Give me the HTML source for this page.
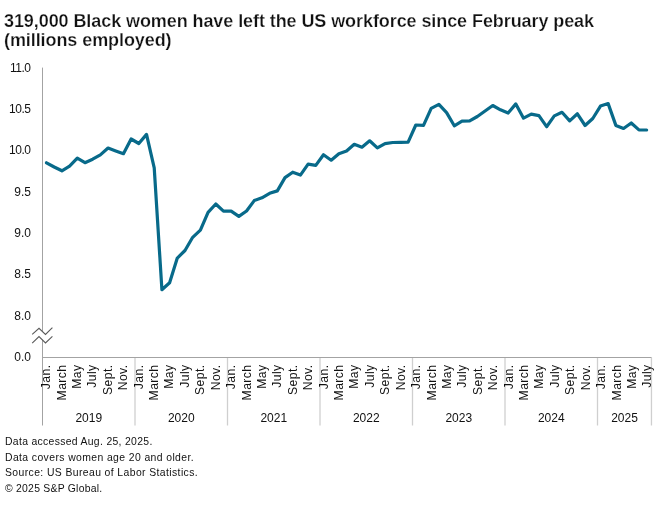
<!DOCTYPE html>
<html><head><meta charset="utf-8">
<style>
html,body{margin:0;padding:0;background:#fff;}
*{-webkit-font-smoothing:antialiased;}
.lay{will-change:transform;}
body{width:660px;height:505px;position:relative;overflow:hidden;font-family:"Liberation Sans",sans-serif;color:#000;}
.title{position:absolute;left:4px;top:11.7px;font-weight:bold;font-size:18px;line-height:19.2px;letter-spacing:-0.08px;white-space:nowrap;color:#111;-webkit-text-stroke:0.25px #fff;}
.foot{position:absolute;left:4.5px;top:433.8px;font-size:10.4px;line-height:15.6px;letter-spacing:0.4px;white-space:nowrap;color:#111;}
svg{position:absolute;left:0;top:0;}
svg text{font-family:"Liberation Sans",sans-serif;fill:#111;}
.yl{font-size:12px;}
.ml{font-size:12.2px;letter-spacing:0.4px;}
.yr{font-size:12px;}
.sep{stroke:#cfcfcf;stroke-width:1.3;}
.ax{stroke:#a3a3a3;stroke-width:1;fill:none;}
.brk{stroke:#5a5a5a;stroke-width:1.1;fill:none;}
</style></head><body>
<div class="title lay">319,000 Black women have left the US workforce since February peak<br>(millions employed)</div>
<svg class="lay" width="660" height="505" viewBox="0 0 660 505">
<line x1="651.46" y1="357.5" x2="651.46" y2="425.5" class="sep"/>
<line x1="135.00" y1="357.5" x2="135.00" y2="425.5" class="sep"/>
<line x1="227.50" y1="357.5" x2="227.50" y2="425.5" class="sep"/>
<line x1="320.00" y1="357.5" x2="320.00" y2="425.5" class="sep"/>
<line x1="412.50" y1="357.5" x2="412.50" y2="425.5" class="sep"/>
<line x1="505.00" y1="357.5" x2="505.00" y2="425.5" class="sep"/>
<line x1="597.50" y1="357.5" x2="597.50" y2="425.5" class="sep"/>
<line x1="42.5" y1="67.6" x2="42.5" y2="331.4" class="ax"/>
<line x1="42.5" y1="339.8" x2="42.5" y2="425.5" class="ax"/>
<line x1="42.5" y1="357.5" x2="651.46" y2="357.5" class="ax"/>
<polyline class="brk" points="32.2,334.4 39.0,328.3 45.5,334.4 52.4,327.6"/>
<polyline class="brk" points="32.2,343.2 39.0,336.6 45.5,342.9 52.4,336.3"/>
<text x="30.4" y="71.60" text-anchor="end" class="yl" style="letter-spacing:-0.5px">11.0</text>
<text x="30.4" y="112.97" text-anchor="end" class="yl" style="letter-spacing:-0.5px">10.5</text>
<text x="30.4" y="154.34" text-anchor="end" class="yl" style="letter-spacing:-0.5px">10.0</text>
<text x="31" y="195.71" text-anchor="end" class="yl">9.5</text>
<text x="31" y="237.08" text-anchor="end" class="yl">9.0</text>
<text x="31" y="278.45" text-anchor="end" class="yl">8.5</text>
<text x="31" y="319.82" text-anchor="end" class="yl">8.0</text>
<text x="31" y="361.10" text-anchor="end" class="yl">0.0</text>
<text x="50.10" y="364.50" transform="rotate(-90 50.10 364.50)" text-anchor="end" class="ml">Jan.</text>
<text x="65.52" y="364.50" transform="rotate(-90 65.52 364.50)" text-anchor="end" class="ml">March</text>
<text x="80.93" y="364.50" transform="rotate(-90 80.93 364.50)" text-anchor="end" class="ml">May</text>
<text x="96.35" y="364.50" transform="rotate(-90 96.35 364.50)" text-anchor="end" class="ml">July</text>
<text x="111.77" y="364.50" transform="rotate(-90 111.77 364.50)" text-anchor="end" class="ml">Sept.</text>
<text x="127.18" y="364.50" transform="rotate(-90 127.18 364.50)" text-anchor="end" class="ml">Nov.</text>
<text x="142.60" y="364.50" transform="rotate(-90 142.60 364.50)" text-anchor="end" class="ml">Jan.</text>
<text x="158.02" y="364.50" transform="rotate(-90 158.02 364.50)" text-anchor="end" class="ml">March</text>
<text x="173.43" y="364.50" transform="rotate(-90 173.43 364.50)" text-anchor="end" class="ml">May</text>
<text x="188.85" y="364.50" transform="rotate(-90 188.85 364.50)" text-anchor="end" class="ml">July</text>
<text x="204.27" y="364.50" transform="rotate(-90 204.27 364.50)" text-anchor="end" class="ml">Sept.</text>
<text x="219.68" y="364.50" transform="rotate(-90 219.68 364.50)" text-anchor="end" class="ml">Nov.</text>
<text x="235.10" y="364.50" transform="rotate(-90 235.10 364.50)" text-anchor="end" class="ml">Jan.</text>
<text x="250.52" y="364.50" transform="rotate(-90 250.52 364.50)" text-anchor="end" class="ml">March</text>
<text x="265.93" y="364.50" transform="rotate(-90 265.93 364.50)" text-anchor="end" class="ml">May</text>
<text x="281.35" y="364.50" transform="rotate(-90 281.35 364.50)" text-anchor="end" class="ml">July</text>
<text x="296.77" y="364.50" transform="rotate(-90 296.77 364.50)" text-anchor="end" class="ml">Sept.</text>
<text x="312.18" y="364.50" transform="rotate(-90 312.18 364.50)" text-anchor="end" class="ml">Nov.</text>
<text x="327.60" y="364.50" transform="rotate(-90 327.60 364.50)" text-anchor="end" class="ml">Jan.</text>
<text x="343.02" y="364.50" transform="rotate(-90 343.02 364.50)" text-anchor="end" class="ml">March</text>
<text x="358.43" y="364.50" transform="rotate(-90 358.43 364.50)" text-anchor="end" class="ml">May</text>
<text x="373.85" y="364.50" transform="rotate(-90 373.85 364.50)" text-anchor="end" class="ml">July</text>
<text x="389.27" y="364.50" transform="rotate(-90 389.27 364.50)" text-anchor="end" class="ml">Sept.</text>
<text x="404.68" y="364.50" transform="rotate(-90 404.68 364.50)" text-anchor="end" class="ml">Nov.</text>
<text x="420.10" y="364.50" transform="rotate(-90 420.10 364.50)" text-anchor="end" class="ml">Jan.</text>
<text x="435.52" y="364.50" transform="rotate(-90 435.52 364.50)" text-anchor="end" class="ml">March</text>
<text x="450.93" y="364.50" transform="rotate(-90 450.93 364.50)" text-anchor="end" class="ml">May</text>
<text x="466.35" y="364.50" transform="rotate(-90 466.35 364.50)" text-anchor="end" class="ml">July</text>
<text x="481.77" y="364.50" transform="rotate(-90 481.77 364.50)" text-anchor="end" class="ml">Sept.</text>
<text x="497.18" y="364.50" transform="rotate(-90 497.18 364.50)" text-anchor="end" class="ml">Nov.</text>
<text x="512.60" y="364.50" transform="rotate(-90 512.60 364.50)" text-anchor="end" class="ml">Jan.</text>
<text x="528.02" y="364.50" transform="rotate(-90 528.02 364.50)" text-anchor="end" class="ml">March</text>
<text x="543.43" y="364.50" transform="rotate(-90 543.43 364.50)" text-anchor="end" class="ml">May</text>
<text x="558.85" y="364.50" transform="rotate(-90 558.85 364.50)" text-anchor="end" class="ml">July</text>
<text x="574.27" y="364.50" transform="rotate(-90 574.27 364.50)" text-anchor="end" class="ml">Sept.</text>
<text x="589.68" y="364.50" transform="rotate(-90 589.68 364.50)" text-anchor="end" class="ml">Nov.</text>
<text x="605.10" y="364.50" transform="rotate(-90 605.10 364.50)" text-anchor="end" class="ml">Jan.</text>
<text x="620.52" y="364.50" transform="rotate(-90 620.52 364.50)" text-anchor="end" class="ml">March</text>
<text x="635.93" y="364.50" transform="rotate(-90 635.93 364.50)" text-anchor="end" class="ml">May</text>
<text x="651.35" y="364.50" transform="rotate(-90 651.35 364.50)" text-anchor="end" class="ml">July</text>
<text x="88.75" y="421.6" text-anchor="middle" class="yr">2019</text>
<text x="181.25" y="421.6" text-anchor="middle" class="yr">2020</text>
<text x="273.75" y="421.6" text-anchor="middle" class="yr">2021</text>
<text x="366.25" y="421.6" text-anchor="middle" class="yr">2022</text>
<text x="458.75" y="421.6" text-anchor="middle" class="yr">2023</text>
<text x="551.25" y="421.6" text-anchor="middle" class="yr">2024</text>
<text x="624.48" y="421.6" text-anchor="middle" class="yr">2025</text>
<polyline points="46.50,162.80 54.19,167.00 61.89,170.80 69.58,166.10 77.28,158.20 84.97,162.70 92.66,159.20 100.36,154.90 108.05,148.00 115.75,150.90 123.44,153.70 131.13,139.00 138.83,143.50 146.52,134.40 154.22,167.80 161.91,289.70 169.60,282.80 177.30,258.10 184.99,250.50 192.69,237.30 200.38,230.10 208.07,212.30 215.77,204.00 223.46,211.10 231.16,211.10 238.85,216.40 246.54,211.00 254.24,200.60 261.93,197.80 269.63,193.30 277.32,190.90 285.01,177.60 292.71,172.20 300.40,175.10 308.10,164.10 315.79,165.40 323.48,154.70 331.18,160.20 338.87,153.70 346.57,151.00 354.26,144.30 361.95,147.20 369.65,140.80 377.34,147.90 385.04,143.60 392.73,142.50 400.42,142.30 408.12,142.10 415.81,125.00 423.51,125.40 431.20,108.40 438.89,104.40 446.59,112.60 454.28,125.80 461.98,121.20 469.67,120.90 477.36,116.50 485.06,111.00 492.75,105.50 500.45,109.80 508.14,113.00 515.83,103.90 523.53,118.20 531.22,114.10 538.92,115.60 546.61,126.70 554.30,115.90 562.00,112.30 569.69,120.90 577.39,113.80 585.08,125.50 592.77,118.50 600.47,106.10 608.16,103.60 615.86,125.40 623.55,128.50 631.24,123.00 638.94,129.90 646.63,130.00" fill="none" stroke="#086a8a" stroke-width="3.2" stroke-linejoin="round" stroke-linecap="round"/>
</svg>
<div class="foot lay"><span style="letter-spacing:0.32px">Data accessed Aug. 25, 2025.</span><br>Data covers women age 20 and older.<br>Source: US Bureau of Labor Statistics.<br><span style="letter-spacing:0.25px">&copy; 2025 S&amp;P Global.</span></div>
</body></html>
